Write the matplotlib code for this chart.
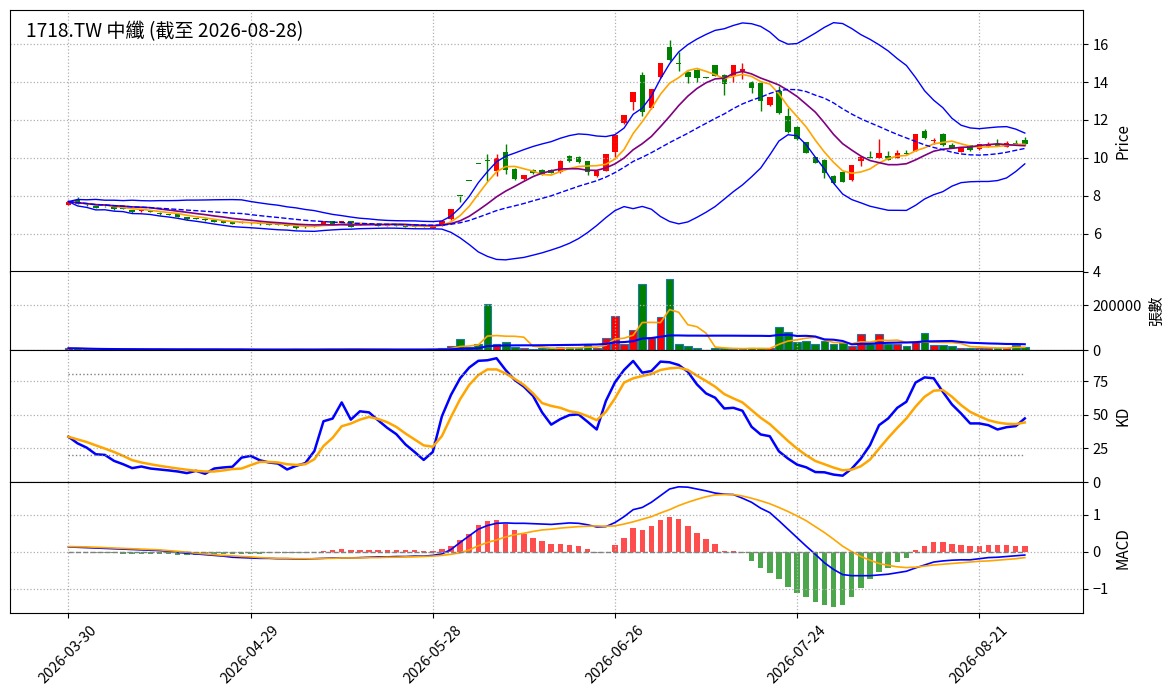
import numpy as np
import pandas as pd
import matplotlib
matplotlib.use('Agg')
import matplotlib.pyplot as plt
from matplotlib.ticker import FixedLocator

plt.rcParams['font.family'] = ['Noto Sans CJK TC', 'DejaVu Sans']

title = '1718.TW 中纖 (截至 2026-08-28)'
start_date = '2026-03-30'
end_date = '2026-08-28'
holidays = ['2026-04-03', '2026-04-06', '2026-05-01', '2026-06-19']

open_ = [7.53, 7.79, 7.53, 7.48, 7.45, 7.39, 7.34, 7.25, 7.18, 7.22,
         7.11, 7.02, 7.01, 6.87, 6.81, 6.78, 6.73, 6.66, 6.61, 6.56,
         6.56, 6.57, 6.54, 6.52, 6.49, 6.40, 6.36, 6.37, 6.52, 6.66,
         6.56, 6.66, 6.50, 6.52, 6.52, 6.42, 6.49, 6.47, 6.45, 6.45,
         6.32, 6.42, 6.76, 8.00, 8.80, 9.68, 9.90, 9.33, 10.28, 9.42,
         8.86, 9.37, 9.37, 9.37, 9.25, 10.12, 10.04, 9.81, 9.05, 9.30,
         10.33, 11.82, 12.93, 14.39, 12.63, 14.25, 15.86, 15.00, 14.54, 14.65,
         14.22, 14.89, 14.39, 14.33, 14.60, 14.02, 13.96, 12.77, 13.54, 12.18,
         11.65, 10.82, 10.03, 9.91, 9.04, 9.25, 8.82, 9.84, 10.01, 10.00,
         10.12, 10.00, 10.24, 10.37, 11.40, 10.90, 11.28, 10.65, 10.32, 10.65,
         10.44, 10.58, 10.75, 10.58, 10.79, 10.93]
high = [7.72, 7.91, 7.56, 7.50, 7.48, 7.41, 7.36, 7.27, 7.27, 7.24,
        7.13, 7.04, 7.03, 6.89, 6.83, 6.80, 6.75, 6.68, 6.63, 6.65,
        6.59, 6.59, 6.56, 6.54, 6.51, 6.42, 6.42, 6.44, 6.68, 6.68,
        6.66, 6.68, 6.56, 6.54, 6.54, 6.49, 6.51, 6.49, 6.47, 6.47,
        6.47, 6.69, 7.30, 8.00, 8.80, 9.68, 10.20, 10.20, 10.74, 9.45,
        9.10, 9.40, 9.40, 9.40, 9.86, 10.15, 10.07, 9.84, 9.30, 10.18,
        11.18, 12.28, 13.49, 14.54, 13.63, 14.98, 16.21, 15.56, 14.56, 14.68,
        14.24, 14.92, 14.41, 14.90, 14.98, 14.05, 13.99, 13.23, 13.80, 12.65,
        11.68, 10.85, 10.05, 9.94, 9.07, 9.28, 9.61, 10.05, 10.37, 10.97,
        10.37, 10.40, 10.40, 11.23, 11.50, 11.05, 11.30, 10.80, 10.55, 10.70,
        10.74, 10.84, 10.98, 10.90, 10.92, 11.10]
low = [7.50, 7.55, 7.47, 7.34, 7.40, 7.27, 7.29, 7.11, 7.16, 7.13,
       6.99, 6.98, 6.88, 6.74, 6.77, 6.68, 6.59, 6.55, 6.50, 6.54,
       6.53, 6.48, 6.43, 6.43, 6.38, 6.23, 6.28, 6.35, 6.50, 6.50,
       6.54, 6.33, 6.48, 6.49, 6.40, 6.40, 6.40, 6.33, 6.33, 6.33,
       6.30, 6.40, 6.74, 7.67, 8.80, 9.68, 8.80, 9.02, 9.16, 8.84,
       8.84, 9.17, 9.10, 9.18, 9.19, 9.79, 9.75, 9.07, 8.98, 9.28,
       10.03, 11.80, 12.53, 12.18, 12.60, 14.23, 15.12, 14.56, 13.95, 14.00,
       14.19, 14.31, 13.32, 14.00, 14.16, 13.42, 12.47, 12.75, 12.33, 11.33,
       10.96, 10.23, 9.70, 8.91, 8.63, 8.72, 8.79, 9.58, 9.99, 9.98,
       9.89, 9.98, 10.19, 10.35, 11.00, 10.75, 10.63, 10.50, 10.30, 10.37,
       10.40, 10.56, 10.60, 10.56, 10.68, 10.70]
close = [7.69, 7.57, 7.49, 7.36, 7.44, 7.29, 7.31, 7.13, 7.25, 7.15,
         7.01, 7.00, 6.90, 6.77, 6.79, 6.70, 6.61, 6.57, 6.52, 6.63,
         6.55, 6.50, 6.45, 6.45, 6.40, 6.30, 6.35, 6.42, 6.66, 6.52,
         6.64, 6.35, 6.53, 6.51, 6.42, 6.47, 6.42, 6.35, 6.35, 6.35,
         6.45, 6.67, 7.28, 8.00, 8.80, 9.68, 9.82, 10.00, 9.37, 8.86,
         9.07, 9.19, 9.12, 9.20, 9.81, 9.81, 9.77, 9.25, 9.28, 10.18,
         11.18, 12.28, 13.49, 12.40, 13.63, 14.98, 15.18, 14.96, 14.25, 14.21,
         14.21, 14.33, 13.88, 14.89, 14.70, 13.67, 12.98, 13.21, 12.35, 11.35,
         10.98, 10.25, 9.72, 9.21, 8.65, 8.74, 9.61, 10.05, 10.00, 10.23,
         9.91, 10.26, 10.21, 11.23, 11.02, 10.96, 10.65, 10.53, 10.53, 10.39,
         10.72, 10.72, 10.63, 10.79, 10.70, 10.72]
volume = [9000, 8000, 5000, 4000, 3500, 4000, 3000, 4500, 3500, 3000,
          4000, 3000, 3500, 4000, 3000, 3500, 4000, 3000, 3500, 3000,
          2500, 3000, 3500, 3000, 3500, 4500, 3000, 3000, 6000, 5000,
          4000, 6000, 3000, 2500, 3000, 2500, 2500, 3000, 3000, 3500,
          5000, 8000, 18000, 49000, 15000, 29000, 204000, 29000, 35000, 13000,
          9000, 5000, 11000, 9000, 13000, 13000, 10000, 23000, 12000, 53000,
          151000, 29000, 89000, 293000, 56000, 146000, 317000, 29000, 18000, 12000,
          3000, 10000, 10000, 7000, 7000, 8000, 8000, 8000, 101000, 79000,
          37500, 43000, 29000, 39000, 26000, 34000, 19000, 71000, 29000, 71000,
          26000, 29000, 19000, 35000, 75000, 22000, 22000, 18000, 12000, 9000,
          12000, 10000, 10000, 10000, 23000, 14000]
k_line = [33.6, 28.7, 25.5, 20.6, 20.1, 15.7, 13.2, 10.3, 11.5, 10.0,
          9.3, 8.6, 7.8, 6.6, 8.3, 6.1, 10.0, 10.8, 11.3, 18.1,
          19.4, 16.2, 14.5, 13.7, 9.3, 12.0, 14.0, 23.0, 45.1, 47.1,
          59.1, 46.3, 52.5, 51.7, 45.8, 40.2, 35.5, 27.9, 22.3, 16.4,
          22.3, 48.8, 64.7, 77.0, 85.0, 90.0, 90.4, 91.9, 83.1, 75.7,
          70.8, 64.0, 51.7, 42.6, 46.7, 49.7, 50.2, 44.7, 39.0, 60.1,
          74.0, 83.2, 89.9, 81.2, 82.4, 89.4, 88.9, 86.9, 81.9, 72.5,
          65.8, 62.6, 54.6, 55.1, 52.9, 41.0, 35.3, 34.0, 22.8, 17.4,
          12.9, 10.9, 7.4, 7.2, 5.5, 4.7, 9.9, 17.4, 27.3, 42.2,
          47.2, 55.1, 59.6, 73.8, 77.7, 77.0, 67.0, 57.6, 50.9, 43.5,
          43.5, 42.2, 39.0, 40.7, 41.5, 47.2]
d_line = [33.6, 31.6, 29.7, 27.2, 24.8, 22.3, 19.4, 16.2, 14.5, 13.2,
          12.0, 11.0, 10.0, 9.1, 8.3, 7.8, 7.8, 8.6, 9.6, 10.0,
          12.5, 14.9, 14.9, 14.5, 13.2, 12.7, 13.2, 16.9, 26.7, 32.8,
          41.4, 43.4, 46.3, 48.3, 46.8, 44.4, 40.9, 36.0, 31.6, 27.2,
          26.2, 34.1, 48.3, 61.5, 72.1, 79.4, 83.6, 83.6, 80.6, 76.5,
          72.1, 65.9, 58.6, 56.5, 55.1, 52.6, 51.4, 48.9, 45.9, 52.1,
          62.1, 73.8, 77.0, 78.7, 80.2, 83.2, 84.4, 84.9, 83.2, 79.0,
          75.0, 70.8, 65.3, 62.1, 59.1, 53.4, 47.7, 43.0, 36.8, 30.5,
          24.8, 19.9, 15.6, 13.2, 10.7, 8.7, 9.2, 11.7, 16.6, 24.8,
          32.8, 40.2, 47.2, 55.9, 63.3, 67.8, 68.3, 63.3, 57.1, 52.1,
          48.9, 45.9, 44.2, 43.2, 43.0, 44.2]
macd_dif = [0.13, 0.12, 0.11, 0.10, 0.09, 0.08, 0.07, 0.06, 0.05, 0.04,
            0.03, 0.01, -0.02, -0.04, -0.06, -0.08, -0.10, -0.12, -0.15, -0.16,
            -0.17, -0.18, -0.18, -0.19, -0.19, -0.20, -0.20, -0.19, -0.18, -0.17,
            -0.17, -0.17, -0.16, -0.15, -0.14, -0.14, -0.13, -0.13, -0.12, -0.12,
            -0.10, -0.06, 0.06, 0.25, 0.43, 0.61, 0.71, 0.77, 0.78, 0.77,
            0.77, 0.76, 0.75, 0.74, 0.76, 0.78, 0.77, 0.73, 0.67, 0.68,
            0.79, 0.95, 1.14, 1.20, 1.34, 1.52, 1.70, 1.76, 1.75, 1.70,
            1.65, 1.59, 1.56, 1.55, 1.45, 1.34, 1.18, 1.06, 0.84, 0.61,
            0.38, 0.15, -0.07, -0.30, -0.48, -0.62, -0.65, -0.65, -0.65, -0.63,
            -0.61, -0.57, -0.53, -0.44, -0.36, -0.28, -0.25, -0.23, -0.22, -0.22,
            -0.19, -0.16, -0.15, -0.13, -0.11, -0.09]
macd_dea = [0.14, 0.135, 0.13, 0.12, 0.11, 0.10, 0.09, 0.08, 0.07, 0.06,
            0.05, 0.03, 0.01, -0.01, -0.04, -0.06, -0.08, -0.10, -0.11, -0.13,
            -0.14, -0.16, -0.17, -0.18, -0.18, -0.19, -0.19, -0.19, -0.18, -0.18,
            -0.17, -0.17, -0.17, -0.16, -0.16, -0.15, -0.15, -0.14, -0.14, -0.13,
            -0.12, -0.10, -0.07, -0.03, 0.05, 0.16, 0.25, 0.32, 0.40, 0.46,
            0.50, 0.55, 0.59, 0.61, 0.64, 0.66, 0.68, 0.69, 0.70, 0.69,
            0.70, 0.75, 0.81, 0.88, 0.95, 1.05, 1.14, 1.25, 1.34, 1.42,
            1.49, 1.54, 1.55, 1.55, 1.51, 1.45, 1.38, 1.30, 1.20, 1.09,
            0.97, 0.84, 0.68, 0.52, 0.34, 0.15, 0.00, -0.13, -0.23, -0.32,
            -0.37, -0.41, -0.43, -0.42, -0.39, -0.36, -0.34, -0.32, -0.30, -0.28,
            -0.26, -0.25, -0.23, -0.21, -0.19, -0.16]
macd_hist = [0.0, -0.01, -0.01, -0.03, -0.03, -0.04, -0.05, -0.05, -0.05, -0.06,
             -0.07, -0.07, -0.09, -0.08, -0.08, -0.08, -0.07, -0.06, -0.07, -0.06,
             -0.06, -0.05, -0.04, -0.04, -0.03, -0.03, -0.03, -0.01, 0.03, 0.04,
             0.06, 0.05, 0.05, 0.05, 0.05, 0.05, 0.05, 0.04, 0.04, 0.03,
             0.03, 0.08, 0.16, 0.31, 0.48, 0.72, 0.83, 0.85, 0.75, 0.58,
             0.47, 0.38, 0.30, 0.22, 0.22, 0.19, 0.16, 0.06, -0.04, 0.0,
             0.17, 0.38, 0.63, 0.60, 0.71, 0.87, 0.95, 0.90, 0.71, 0.52,
             0.35, 0.22, 0.03, 0.03, -0.04, -0.24, -0.45, -0.57, -0.73, -0.95,
             -1.12, -1.24, -1.36, -1.45, -1.49, -1.45, -1.23, -0.98, -0.75, -0.55,
             -0.44, -0.27, -0.16, 0.05, 0.16, 0.25, 0.25, 0.22, 0.19, 0.16,
             0.16, 0.19, 0.19, 0.19, 0.16, 0.16]

price_ticks = [4, 6, 8, 10, 12, 14, 16]
vol_ticks = [0, 200000]
kd_ticks = [0, 25, 50, 75]
macd_ticks = [-1, 0, 1]

# ---- derived series ----
dates = pd.bdate_range(start_date, end_date, freq='C', holidays=holidays)
n = len(close)
x = np.arange(n)
o = np.array(open_); h = np.array(high); l = np.array(low); c = np.array(close)
v = np.array(volume, dtype=float)
cs = pd.Series(c)
ma5 = cs.rolling(5, min_periods=1).mean()
ma10 = cs.rolling(10, min_periods=1).mean()
ma20 = cs.rolling(20, min_periods=1).mean()
sd20 = cs.rolling(20, min_periods=1).std().fillna(0)
bb_up = ma20 + 2 * sd20
bb_lo = ma20 - 2 * sd20
vs = pd.Series(v)
vma5 = vs.rolling(5, min_periods=1).mean()
vma20 = vs.rolling(20, min_periods=1).mean()

up = c > o
cols = np.where(up, 'red', 'green')

fig = plt.figure(figsize=(11.72, 6.98), dpi=100)
L, W = 10 / 1172, 1073 / 1172
def pos(t, b):
    return [L, 1 - b / 698, W, (b - t) / 698]
ax1 = fig.add_axes(pos(10, 271.5))
ax2 = fig.add_axes(pos(271.5, 350.3), sharex=ax1)
ax3 = fig.add_axes(pos(350.3, 482), sharex=ax1)
ax4 = fig.add_axes(pos(482, 613.3), sharex=ax1)

grid_kw = dict(linestyle=':', color='#b0b0b0', linewidth=0.9)

# price panel
ax1.vlines(x, l, h, colors=cols, linewidth=1)
ax1.bar(x, np.maximum(np.abs(c - o), 0.03), bottom=np.minimum(o, c), width=0.6, color=cols)
ax1.plot(x, ma5, color='orange', lw=1.2)
ax1.plot(x, ma10, color='purple', lw=1.2)
ax1.plot(x, ma20, color='blue', lw=1.0, ls='--')
ax1.plot(x, bb_up, color='blue', lw=1.0)
ax1.plot(x, bb_lo, color='blue', lw=1.0)
ax1.set_ylim(4.0, 17.8)
ax1.yaxis.set_major_locator(FixedLocator(price_ticks))
ax1.set_ylabel('Price', fontsize=11)
ax1.text(0.015, 0.958, title, transform=ax1.transAxes, fontsize=13.8, va='top', ha='left')

# volume panel
ax2.bar(x, v, width=0.85, color=cols, edgecolor='#1f77b4', linewidth=0.8)
ax2.plot(x, vma5, color='orange', lw=1.2)
ax2.plot(x, vma20, color='blue', lw=1.5)
ax2.set_ylim(0, v.max() * 1.1)
ax2.yaxis.set_major_locator(FixedLocator(vol_ticks))
ax2.ticklabel_format(axis='y', style='plain')
ax2.set_ylabel('張數', fontsize=11)

# KD panel
ax3.plot(x, k_line, color='blue', lw=1.8)
ax3.plot(x, d_line, color='orange', lw=1.8)
ax3.plot(x, np.full(n, 80.0), color='gray', ls=':', lw=1)
ax3.plot(x, np.full(n, 20.0), color='gray', ls=':', lw=1)
ax3.set_ylim(0, 97.8)
ax3.yaxis.set_major_locator(FixedLocator(kd_ticks))
ax3.set_ylabel('KD', fontsize=11)

# MACD panel
hist = np.array(macd_hist)
hcols = np.where(hist >= 0, 'red', 'green')
ax4.bar(x, hist, width=0.6, color=hcols, alpha=0.7)
ax4.plot(x, macd_dif, color='blue', lw=1.2)
ax4.plot(x, macd_dea, color='orange', lw=1.2)
ax4.plot(x, np.zeros(n), color='gray', ls='--', lw=1)
ax4.set_ylim(-1.67, 1.89)
ax4.yaxis.set_major_locator(FixedLocator(macd_ticks))
ax4.set_ylabel('MACD', fontsize=11)

tick_pos = list(range(0, n, 20))
ax4.set_xlim(-6.42, n - 1 + 6.39)
ax4.xaxis.set_major_locator(FixedLocator(tick_pos))
ax4.set_xticklabels([dates[i].strftime('%Y-%m-%d') for i in tick_pos], rotation=45, fontsize=10.5)

for ax in (ax1, ax2, ax3, ax4):
    ax.yaxis.tick_right()
    ax.yaxis.set_label_position('right')
    ax.grid(True, **grid_kw)
    ax.tick_params(axis='y', labelsize=10.5)
for ax in (ax1, ax2, ax3):
    ax.tick_params(axis='x', labelbottom=False)

fig.savefig('out.png', dpi=100)
